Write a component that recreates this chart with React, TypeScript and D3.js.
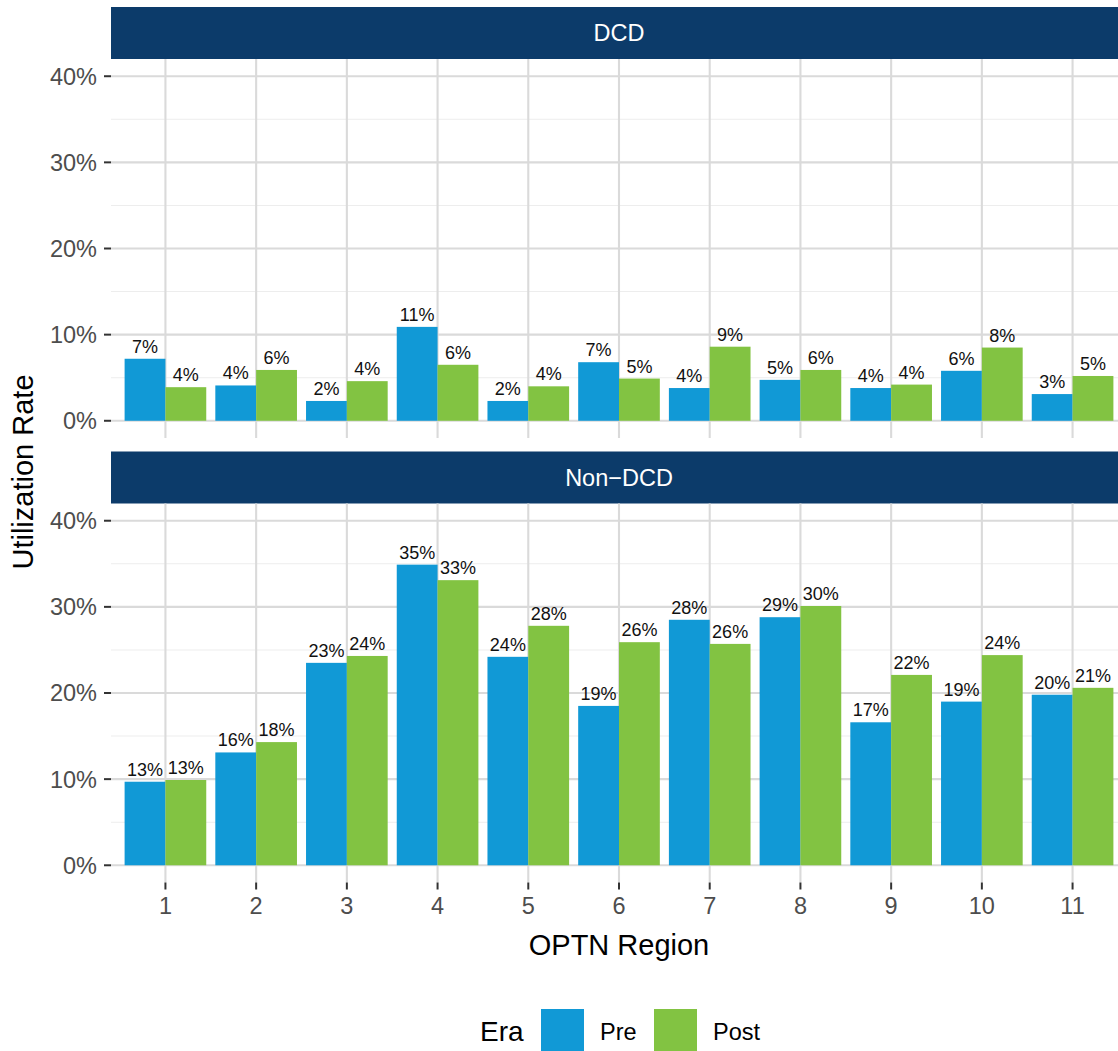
import React, { useRef, useEffect } from 'react';
import * as d3 from 'd3';

// OPTN regions on the x axis
const regions = ['1', '2', '3', '4', '5', '6', '7', '8', '9', '10', '11'];
const eras = ['Pre', 'Post'];
const facets = ['DCD', 'Non\u2212DCD'];

// utilization rate (%)
const dcdPre = [7.2, 4.1, 2.3, 10.9, 2.3, 6.8, 3.8, 4.75, 3.8, 5.8, 3.1];
const dcdPost = [3.9, 5.9, 4.6, 6.5, 4.0, 4.9, 8.6, 5.9, 4.2, 8.5, 5.2];
const nonDcdPre = [9.7, 13.1, 23.5, 34.9, 24.2, 18.5, 28.5, 28.8, 16.6, 19.0, 19.8];
const nonDcdPost = [9.9, 14.3, 24.3, 33.1, 27.8, 25.9, 25.7, 30.1, 22.1, 24.4, 20.6];

// printed bar labels
const dcdPreLabels = ['7%', '4%', '2%', '11%', '2%', '7%', '4%', '5%', '4%', '6%', '3%'];
const dcdPostLabels = ['4%', '6%', '4%', '6%', '4%', '5%', '9%', '6%', '4%', '8%', '5%'];
const nonDcdPreLabels = ['13%', '16%', '23%', '35%', '24%', '19%', '28%', '29%', '17%', '19%', '20%'];
const nonDcdPostLabels = ['13%', '18%', '24%', '33%', '28%', '26%', '26%', '30%', '22%', '24%', '21%'];

const yTicks = [0, 10, 20, 30, 40];
const yMinor = [5, 15, 25, 35];

interface Bar {
  region: string;
  era: string;
  value: number;
  label: string;
}

const App: React.FC = () => {
  const svgRef = useRef<SVGSVGElement | null>(null);

  useEffect(() => {
    const W = 1118;
    const H = 1051;
    const font = "'Liberation Sans', Arial, Helvetica, sans-serif";
    const colors = d3.scaleOrdinal<string, string>().domain(eras).range(['#1199D6', '#82C342']);

    const svg = d3.select(svgRef.current).attr('width', W).attr('height', H);
    svg.selectAll('*').remove();
    svg.append('rect').attr('width', W).attr('height', H).attr('fill', '#fff');

    const left = 111;
    const right = 1127;

    // discrete x scale with ggplot's 0.6 expansion
    const x = d3.scaleLinear().domain([0.4, regions.length + 0.6]).range([left, right]);
    const xc = (r: string) => x(regions.indexOf(r) + 1);
    const barW = x(0.45) - x(0);

    const panels = [
      { name: facets[0], stripTop: 7, top: 59, bottom: 438, pre: dcdPre, post: dcdPost, preL: dcdPreLabels, postL: dcdPostLabels },
      { name: facets[1], stripTop: 451.5, top: 503.5, bottom: 882.5, pre: nonDcdPre, post: nonDcdPost, preL: nonDcdPreLabels, postL: nonDcdPostLabels },
    ];

    panels.forEach((p, pi) => {
      const y = d3.scaleLinear().domain([-2, 42]).range([p.bottom, p.top]);
      const g = svg.append('g');

      // strip
      g.append('rect')
        .attr('x', left)
        .attr('y', p.stripTop)
        .attr('width', right - left)
        .attr('height', p.top - p.stripTop)
        .attr('fill', '#0C3B6A');
      g.append('text')
        .attr('x', (left + right) / 2)
        .attr('y', (p.stripTop + p.top) / 2 + 8.4)
        .attr('text-anchor', 'middle')
        .attr('fill', '#fff')
        .style('font-family', font)
        .style('font-size', '23.5px')
        .text(p.name);

      // grid
      g.selectAll('.minor')
        .data(yMinor)
        .enter()
        .append('line')
        .attr('x1', left)
        .attr('x2', right)
        .attr('y1', (d) => y(d))
        .attr('y2', (d) => y(d))
        .attr('stroke', '#EDEDED')
        .attr('stroke-width', 1.1);
      g.selectAll('.major')
        .data(yTicks)
        .enter()
        .append('line')
        .attr('x1', left)
        .attr('x2', right)
        .attr('y1', (d) => y(d))
        .attr('y2', (d) => y(d))
        .attr('stroke', '#DADADA')
        .attr('stroke-width', 2.1);
      g.selectAll('.vgrid')
        .data(regions)
        .enter()
        .append('line')
        .attr('x1', (d) => xc(d))
        .attr('x2', (d) => xc(d))
        .attr('y1', p.top)
        .attr('y2', p.bottom)
        .attr('stroke', '#DADADA')
        .attr('stroke-width', 2.1);

      // bars
      const bars: Bar[] = [];
      regions.forEach((r, i) => {
        bars.push({ region: r, era: 'Pre', value: p.pre[i], label: p.preL[i] });
        bars.push({ region: r, era: 'Post', value: p.post[i], label: p.postL[i] });
      });
      const bx = (d: Bar) => xc(d.region) + (d.era === 'Pre' ? -barW : 0);

      g.selectAll('.bar')
        .data(bars)
        .enter()
        .append('rect')
        .attr('x', (d) => bx(d))
        .attr('y', (d) => y(d.value))
        .attr('width', barW)
        .attr('height', (d) => y(0) - y(d.value))
        .attr('fill', (d) => colors(d.era));

      g.selectAll('.lbl')
        .data(bars)
        .enter()
        .append('text')
        .attr('x', (d) => bx(d) + barW / 2)
        .attr('y', (d) => y(d.value) - 6)
        .attr('text-anchor', 'middle')
        .attr('fill', '#111')
        .style('font-family', font)
        .style('font-size', '18px')
        .text((d) => d.label);

      // y axis
      const ya = g.selectAll('.ytick').data(yTicks).enter().append('g');
      ya.append('line')
        .attr('x1', left - 7)
        .attr('x2', left)
        .attr('y1', (d) => y(d))
        .attr('y2', (d) => y(d))
        .attr('stroke', '#333')
        .attr('stroke-width', 2);
      ya.append('text')
        .attr('x', left - 14)
        .attr('y', (d) => y(d))
        .attr('dy', '0.36em')
        .attr('text-anchor', 'end')
        .attr('fill', '#4D4D4D')
        .style('font-family', font)
        .style('font-size', '23.5px')
        .text((d) => `${d}%`);

      // x axis only under the bottom panel
      if (pi === panels.length - 1) {
        const xa = g.selectAll('.xtick').data(regions).enter().append('g');
        xa.append('line')
          .attr('x1', (d) => xc(d))
          .attr('x2', (d) => xc(d))
          .attr('y1', p.bottom)
          .attr('y2', p.bottom + 7)
          .attr('stroke', '#333')
          .attr('stroke-width', 2);
        xa.append('text')
          .attr('x', (d) => xc(d))
          .attr('y', 914)
          .attr('text-anchor', 'middle')
          .attr('fill', '#4D4D4D')
          .style('font-family', font)
          .style('font-size', '23.5px')
          .text((d) => d);
      }
    });

    // axis titles
    svg.append('text')
      .attr('x', (left + right) / 2)
      .attr('y', 955)
      .attr('text-anchor', 'middle')
      .attr('fill', '#000')
      .style('font-family', font)
      .style('font-size', '29px')
      .text('OPTN Region');

    svg.append('text')
      .attr('transform', 'translate(33,472) rotate(-90)')
      .attr('text-anchor', 'middle')
      .attr('fill', '#000')
      .style('font-family', font)
      .style('font-size', '29px')
      .text('Utilization Rate');

    // legend
    const lg = svg.append('g');
    lg.append('text')
      .attr('x', 480)
      .attr('y', 1041)
      .attr('fill', '#000')
      .style('font-family', font)
      .style('font-size', '28px')
      .text('Era');
    const keyX = [541, 654];
    eras.forEach((e, i) => {
      lg.append('rect')
        .attr('x', keyX[i])
        .attr('y', 1009)
        .attr('width', 43)
        .attr('height', 43)
        .attr('fill', colors(e));
      lg.append('text')
        .attr('x', keyX[i] + 59)
        .attr('y', 1040)
        .attr('fill', '#000')
        .style('font-family', font)
        .style('font-size', '23.5px')
        .text(e);
    });
  }, []);

  return <svg ref={svgRef} style={{ position: 'absolute', left: 0, top: 0, display: 'block' }}></svg>;
};

export default App;
